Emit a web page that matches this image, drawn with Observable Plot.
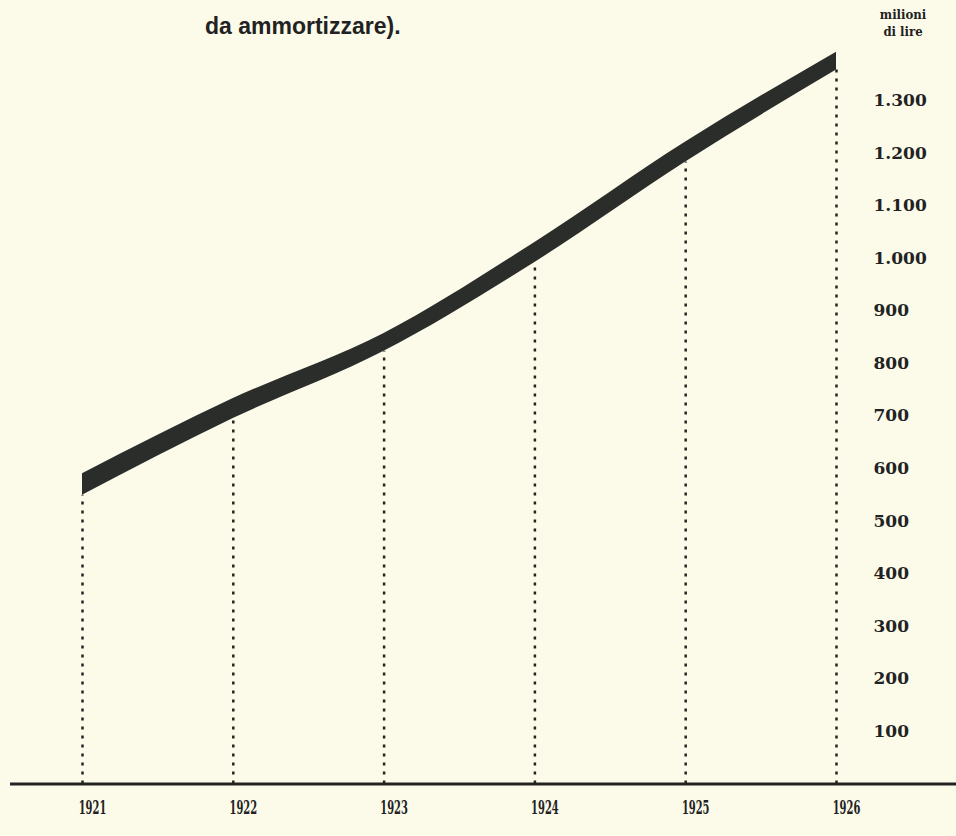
<!DOCTYPE html>
<html><head><meta charset="utf-8">
<script src="https://cdn.jsdelivr.net/npm/d3@7"></script>
<script src="https://cdn.jsdelivr.net/npm/@observablehq/plot@0.6"></script>
<style>
html,body{margin:0;padding:0;background:#fcfbea;}
#wrap{position:relative;width:956px;height:836px;overflow:hidden;background:#fcfbea;}
#title{position:absolute;left:205px;top:13px;font:bold 23px "Liberation Sans Narrow",sans-serif;color:#222;white-space:nowrap;}
#unit{position:absolute;left:870px;top:6px;width:66px;font:bold 13px "DejaVu Serif Condensed","DejaVu Serif",serif;font-stretch:condensed;line-height:17px;text-align:center;color:#222;}
</style></head>
<body>
<div id="wrap">
  <div id="title">da ammortizzare).</div>
  <div id="unit">milioni<br>di lire</div>
</div>
<script>
const years = [1921, 1922, 1923, 1924, 1925, 1926];
const upperValues = [590, 733, 857, 1030, 1221, 1392];
const lowerValues = [549, 695, 823, 992, 1183, 1358];
const yTicks = [100, 200, 300, 400, 500, 600, 700, 800, 900, 1000, 1100, 1200, 1300];

const data = years.map((y, i) => ({year: y, lo: lowerValues[i], hi: upperValues[i]}));
const fmt = d3.formatLocale({decimal: ",", thousands: ".", grouping: [3], currency: ["", ""]}).format(",");
const ink = "#222";

const chart = Plot.plot({
  width: 956,
  height: 836,
  marginTop: 100,
  marginBottom: 52.5,
  marginLeft: 10,
  marginRight: 0,
  style: {background: "transparent", color: ink, overflow: "visible"},
  x: {domain: [1920.5225, 1926.7958], label: null},
  y: {domain: [0, 1300], label: null},
  marks: [
    Plot.ruleX(data, {x: "year", y1: 0, y2: "lo", stroke: ink, strokeWidth: 2.5, strokeDasharray: "3,6"}),
    Plot.areaY(data, {x: "year", y1: "lo", y2: "hi", fill: "#2a2d2a", curve: "monotone-x"}),
    Plot.ruleY([0], {stroke: ink, strokeWidth: 2.8}),
    Plot.axisX(years, {anchor: "bottom", tickSize: 0, tickPadding: 17, dx: 10, tickFormat: d => String(d),
      fontSize: 19, fontWeight: "bold", fontFamily: "'DejaVu Serif Condensed', 'DejaVu Serif', serif", fill: ink, label: null}),
    Plot.axisY(yTicks, {anchor: "right", tickSize: 0, tickPadding: 0, dx: -83, textAnchor: "start", tickFormat: fmt,
      fontSize: 17, fontFamily: "'DejaVu Serif', serif", fontWeight: "bold", fill: ink, label: null})
  ]
});
d3.select(chart).selectAll('g[aria-label="x-axis tick label"] text').each(function () {
  const t = this.getAttribute("transform") || "";
  this.setAttribute("transform", t + " scale(0.58,1)");
});
document.getElementById("wrap").prepend(chart);
</script>
</body></html>
